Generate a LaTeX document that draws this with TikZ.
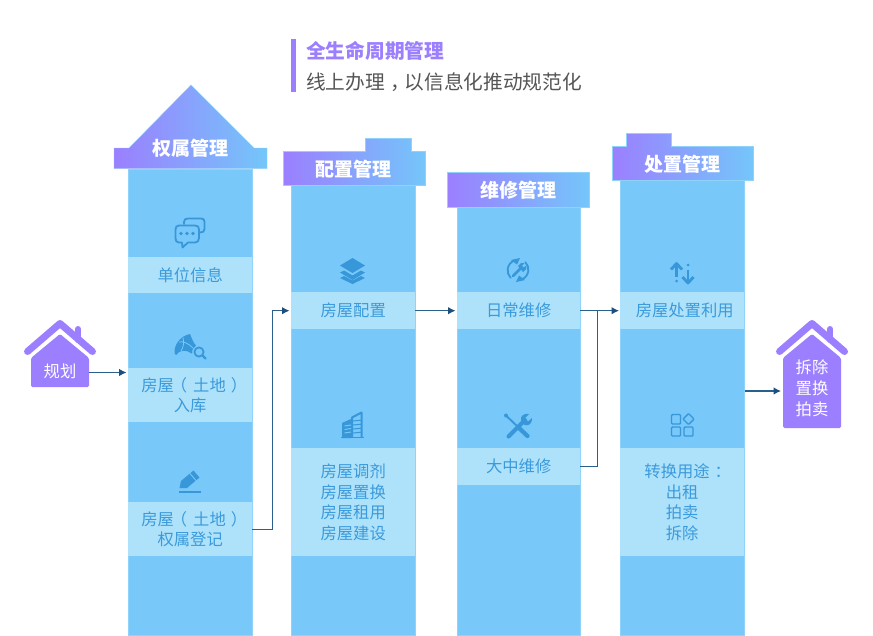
\documentclass[tikz,border=0pt]{standalone}
\usepackage{fontspec}
\setmainfont{Noto Sans CJK SC}
\usetikzlibrary{arrows.meta}
\definecolor{colfill}{HTML}{78C8FA}
\definecolor{bandfill}{HTML}{AEE2FB}
\definecolor{edgepale}{HTML}{8FD2FA}
\definecolor{inktext}{HTML}{3B9ADB}
\definecolor{iconblue}{HTML}{3797D8}
\definecolor{violet}{HTML}{9B7FFF}
\definecolor{skyend}{HTML}{74C6FA}
\definecolor{linkblue}{HTML}{2B5F8C}
\definecolor{headdark}{HTML}{1D4F7C}
\definecolor{greytext}{HTML}{555555}
\tikzset{
  colbox/.style={anchor=north west,inner sep=0pt,minimum width=124pt,fill=colfill,draw=edgepale,line width=.5pt},
  bandbox/.style={anchor=north west,inner sep=0pt,minimum width=124pt,fill=bandfill,text=inktext,align=center,
    font=\fontsize{16.3}{20.7}\selectfont},
  bandmulti/.style={bandbox,execute at begin node={\rule{0pt}{17.5pt}}},
  headshape/.style={left color=violet,right color=skyend,draw=edgepale,line width=.4pt},
  headtext/.style={inner sep=0pt,text=white,font=\fontsize{19}{22}\selectfont\bfseries},
  link/.style={draw=linkblue,line width=1.1pt,-{Latex[length=7.5pt,width=7.5pt,color=headdark]},shorten >=1.5pt},
  iconline/.style={draw=iconblue,line width=1.8pt,line cap=round,line join=round,fill=none},
  iconsolid/.style={fill=iconblue,draw=none},
  houseroof/.style={draw=violet,line width=7pt,line cap=round,line join=round},
  housebody/.style={fill=violet,draw=none,rounded corners=1.5pt},
  housetext/.style={inner sep=0pt,text=white,align=center,font=\fontsize{16.3}{21}\selectfont},
}
\newcommand{\houseshape}[2]{%
  \draw[houseroof,fill=none] (#1-32.5,351.5) -- (#1,323.5) -- (#1+32.5,351.5);
  \draw[violet,line width=6pt,line cap=round] (#1+18,329) -- (#1+18,340);
  \fill[housebody] (#1,334) -- (#1+29,358) -- (#1+29,#2) -- (#1-29,#2) -- (#1-29,358) -- cycle;
}
\newcommand{\landline}{房屋\hspace*{-3pt}（\hspace*{6pt}土地\hspace*{5pt}）\hspace*{-8pt}}
\begin{document}
\begin{tikzpicture}[x=1pt,y=-1pt]
\useasboundingbox (0,0) rectangle (873,635);
\fill[white] (0,0) rectangle (873,635);

% intro
\fill[violet] (291,39) rectangle (296,92);
\node[anchor=west,inner sep=0pt,text=violet,font=\fontsize{19.7}{22}\selectfont\bfseries] (title) at (306,51) {全生命周期管理};
\node[anchor=west,inner sep=0pt,text=greytext,font=\fontsize{19.7}{22}\selectfont] (subtitle) at (306,82) {线上办理\hspace*{5.5pt}，\hspace*{-5.5pt}以信息化推动规范化};

% columns
\node[colbox,minimum height=466pt] (col1) at (128,169) {};
\node[colbox,minimum height=450pt] (col2) at (291,185) {};
\node[colbox,minimum height=429pt,minimum width=123pt] (col3) at (457,206) {};
\node[colbox,minimum height=455pt] (col4) at (620,180) {};

% bands
\node[bandbox,minimum height=36pt] (unit) at (128,257) {单位信息};
\node[bandmulti,minimum height=54pt] (entry) at (128,368) {\landline\\入库};
\node[bandmulti,minimum height=54pt] (regist) at (128,502) {\landline\\权属登记};
\node[bandbox,minimum height=37pt] (config) at (291,292) {房屋配置};
\node[bandmulti,minimum height=108pt] (adjust) at (291,448) {房屋调剂\\房屋置换\\房屋租用\\房屋建设};
\node[bandbox,minimum height=37pt,minimum width=123pt] (daily) at (457,292) {日常维修};
\node[bandbox,minimum height=37pt,minimum width=123pt] (major) at (457,448) {大中维修};
\node[bandbox,minimum height=37pt] (dispose) at (620,292) {\hspace*{5pt}房屋处置利用};
\node[bandmulti,minimum height=108pt] (convert) at (620,448) {转换用途\hspace*{5pt}：\hspace*{-11pt}\\出租\\拍卖\\拆除};

% headers
\path[headshape] (114,148) -- (129,148) -- (191,85) -- (254,148) -- (267,148) -- (267,168.5) -- (114,168.5) -- cycle;
\path[headshape] (283.5,151) -- (365,151) -- (365,138) -- (411,138) -- (411,151) -- (425,151) -- (425,185) -- (283.5,185) -- cycle;
\path[headshape] (447.5,172.5) rectangle (589,207);
\path[headshape] (612,146) -- (626,146) -- (626,133.5) -- (671,133.5) -- (671,146) -- (753,146) -- (753,180) -- (612,180) -- cycle;
\node[headtext] (h1) at (190,148) {权属管理};
\node[headtext] (h2) at (353,169) {配置管理};
\node[headtext] (h3) at (518,190) {维修管理};
\node[headtext] (h4) at (682,164) {处置管理};

% houses
\houseshape{60}{387}
\houseshape{812}{428}
\node[housetext] (plan) at (60,371.5) {规划};
\node[housetext] (demol) at (812,388) {拆除\\置换\\拍卖};
\coordinate (planout) at (89,372.5);
\coordinate (demolin) at (782.5,391);

% connectors
\draw[link] (planout) -- (planout -| col1.west);
\draw[link] (regist.east) -- ++(20,0) |- (config.west);
\draw[link] (config.east) -- (daily.west);
\draw[link,shorten >=1pt] (daily.east) -- (dispose.west);
\draw[draw=linkblue,line width=1.1pt] (major.east) -- ++(17,0) |- (daily.east);
\draw[link] (demolin -| col4.east) -- (demolin);

% icon: speech bubbles
\draw[iconline] (184,224) -- (184,222) .. controls (184,219.5) and (185.5,218.5) .. (188,218.5) -- (201,218.5) .. controls (203.5,218.5) and (204.5,219.5) .. (204.5,222) -- (204.5,229) .. controls (204.5,231.5) and (203,232.5) .. (200,232.5);
\draw[iconline] (179,225.5) -- (195,225.5) .. controls (198,225.5) and (199,227) .. (199,229.5) -- (199,238) .. controls (199,241) and (197.5,242.5) .. (195,242.5) -- (188,242.5) -- (182.5,247.5) -- (182,242.5) -- (179,242.5) .. controls (176.5,242.5) and (175.5,241) .. (175.5,238) -- (175.5,229.5) .. controls (175.5,227) and (176.5,225.5) .. (179,225.5) -- cycle;
\fill[iconblue] (181,233.5) circle[radius=1.8pt] (187,233.5) circle[radius=1.8pt] (193,233.5) circle[radius=1.8pt];

% icon: map and magnifier
\fill[iconblue] (174.5,353) .. controls (174,345) and (180,336) .. (190,334) .. controls (192,339) and (193.5,343) .. (196,345.5) .. controls (193,347) and (192,350) .. (192,353.5) .. controls (186,349.5) and (180,349.5) .. (176,355) -- cycle;
\draw[colfill,line width=.8pt] (179,342) .. controls (183,341) and (188,343) .. (193,348);
\draw[colfill,line width=.8pt] (183,337.5) .. controls (184,342) and (184,346) .. (181,351);
\draw[iconline] (199,352) circle[radius=4.6pt];
\draw[iconline,line width=2.2pt] (202.5,355.5) -- (205.5,358.5);

% icon: pencil
\fill[iconblue] (179.5,488) -- (181,481) -- (193.5,470.5) -- (199.5,477.5) -- (187,488) -- cycle;
\draw[colfill,line width=.9pt] (190,473.5) -- (196,480.5);
\fill[iconblue] (179,491) rectangle (201,492.5);

% icon: layers
\fill[iconblue] (352.5,258) -- (365,265.5) -- (352.5,273) -- (340,265.5) -- cycle;
\fill[iconblue] (344,270.5) -- (340,272.5) -- (352.5,280) -- (365,272.5) -- (361,270.5) -- (352.5,275.5) -- cycle;
\fill[iconblue] (344,276) -- (340,278) -- (352.5,284) -- (365,278) -- (361,276) -- (352.5,280.5) -- cycle;

% icon: buildings
\draw[iconblue,line width=2pt,line join=round,fill=none] (352,437) -- (352,417.5) -- (361.5,412.5) -- (361.5,437);
\fill[iconblue] (342,438) -- (342,423) -- (351,419) -- (351,438) -- cycle;
\draw[iconblue,line width=1.4pt] (341,437.7) -- (364,437.7);
\foreach \yy in {426,429.5,433}{\draw[colfill,line width=1pt] (344.5,\yy) -- (351,\yy-1);}
\foreach \yy in {421,425,429,433}{\draw[iconblue,line width=1pt] (353,\yy) -- (361,\yy-.8);}

% icon: wrench in refresh arrows
\draw[iconline] (514.5,260.5) arc[start angle=110,end angle=225,radius=10.5pt];
\draw[iconline] (521.5,279.5) arc[start angle=-70,end angle=45,radius=10.5pt];
\fill[iconblue] (511,260) -- (520,258) -- (517,264.5) -- cycle;
\fill[iconblue] (525,280) -- (516,282) -- (519,275.5) -- cycle;
\draw[iconline,line width=2.8pt] (513,276) -- (521,268);
\fill[iconblue] (518,266) -- (521,263) -- (524.5,263) -- (522,266) -- (523.5,267.5) -- (526.5,265.5) -- (526,269) -- (523,272) -- cycle;

% icon: crossed tools
\draw[iconline,line width=1.9pt] (507,416.5) -- (518,427);
\fill[iconblue] (506,415.5) circle[radius=2pt];
\draw[iconline,line width=4.2pt] (519,428) -- (527.5,436);
\draw[iconline,line width=4pt] (508.5,436.5) -- (525,420);
\fill[iconblue] (521,420.5) .. controls (520,416) and (524,413) .. (529,414) -- (525,418) -- (528,421.5) -- (532,418) .. controls (532.5,423) and (529,426.5) .. (524.5,425) -- cycle;

% icon: up and down arrows
\draw[iconline,line width=2.8pt,line cap=butt] (676.5,264) -- (676.5,277);
\draw[iconline,line width=2.8pt,line cap=butt,miter limit=10] (671,269.5) -- (676.5,263.5) -- (682,269.5);
\fill[iconblue] (676.5,281) circle[radius=1.5pt];
\draw[iconline,line width=2.8pt,line cap=butt] (688,269.5) -- (688,282);
\draw[iconline,line width=2.8pt,line cap=butt] (682.5,277) -- (688,283) -- (693.5,277);
\fill[iconblue] (688,265) circle[radius=1.5pt];

% icon: app grid
\draw[iconline,line width=1.4pt,rounded corners=1pt] (671.5,414.5) rectangle (680.5,424);
\draw[iconline,line width=1.4pt,rounded corners=1pt] (671.5,427) rectangle (680.5,436);
\draw[iconline,line width=1.4pt,rounded corners=1pt] (684,427) rectangle (693,436);
\draw[iconline,line width=1.4pt,rounded corners=.7pt] (688.5,413.5) -- (694,419) -- (688.5,424.5) -- (683,419) -- cycle;
\end{tikzpicture}
\end{document}
